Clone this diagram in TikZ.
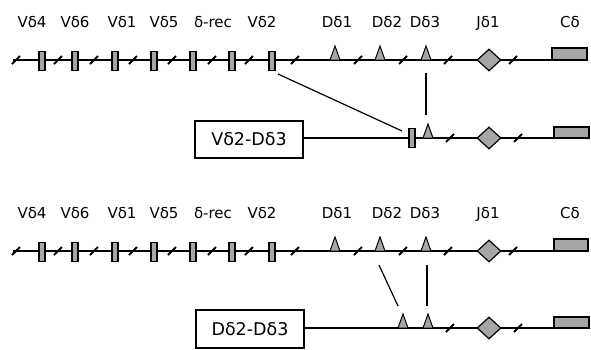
\documentclass[tikz,border=0pt]{standalone}
\usepackage{fontspec}
\setmainfont{DejaVu Sans}
\usetikzlibrary{shapes.geometric}
\definecolor{segfill}{HTML}{A6A6A6}
\begin{document}
\begin{tikzpicture}[x=1pt,y=-1pt,
  gline/.style={line width=1.5pt},
  conn/.style={line width=1.2pt},
  brkline/.style={line width=1.9pt},
  vseg/.style={draw,fill=segfill,line width=1.2pt,minimum width=6pt,minimum height=19pt,inner sep=0pt},
  dtri/.style={draw,fill=segfill,line width=1pt},
  jdia/.style={draw,fill=segfill,shape=diamond,line width=1.2pt,minimum width=24pt,minimum height=22pt,inner sep=0pt},
  cbox/.style={draw,fill=segfill,line width=1.2pt},
  lbl/.style={font=\fontsize{15}{17}\selectfont,anchor=base,inner sep=0pt},
  recbox/.style={draw,line width=1.2pt,minimum width=108pt,minimum height=37pt,font=\fontsize{17.5}{20}\selectfont}
]
\useasboundingbox (0,0) rectangle (591,349);

% ---------- Row 1: germline ----------
\draw[gline] (13,60) -- (587,60);
\foreach \x/\n in {42/a,75/b,115/c,154/d,193/e,232/f,272/g}
  \node[vseg] (r1v\n) at (\x,61) {};
\foreach \x in {16,58,94,133,172,212,249,295,358,403,448,513}
  \draw[brkline] (\x-4,64) -- (\x+4,56);
\foreach \x/\n in {335/a,380/b,426/c}{
  \draw[dtri] (\x-5,60) -- (\x,46) -- (\x+5,60) -- cycle;
  \coordinate (r1d\n) at (\x,46);
}
\node[jdia] (r1j) at (489,60) {};
\draw[cbox] (552,48) rectangle (587,60);

\foreach \x/\t/\n in {32/Vδ4/a,75/Vδ6/b,122/Vδ1/c,164/Vδ5/d,213/δ-rec/e,262/Vδ2/f,337/Dδ1/g,387/Dδ2/h,425/Dδ3/i,488/Jδ1/j,570/Cδ/k}
  \node[lbl] (r1l\n) at (\x,27) {\t};

% ---------- Row 2: V-D rearrangement ----------
\node[recbox] (box1) at (249,139.5) {Vδ2-Dδ3};
\draw[gline] (box1.east |- 0,138) -- (589,138);
\node[vseg] (r2v) at (412,138) {};
\draw[dtri] (423,138) -- (428,124) -- (433,138) -- cycle;
\coordinate (r2d) at (428,124);
\foreach \x in {450,518}
  \draw[brkline] (\x-4,142) -- (\x+4,134);
\node[jdia] (r2j) at (489,138) {};
\draw[cbox] (554,127) rectangle (589,138);

\coordinate (k1a) at (278,74);
\coordinate (k1b) at (402,131);
\coordinate (k2a) at (426,73);
\coordinate (k2b) at (426,115);
\draw[conn] (k1a) -- (k1b);
\draw[conn] (k2a) -- (k2b);

% ---------- Row 3: germline ----------
\draw[gline] (13,251) -- (588,251);
\foreach \x/\n in {42/a,75/b,115/c,154/d,193/e,232/f,272/g}
  \node[vseg] (r3v\n) at (\x,252) {};
\foreach \x in {16,58,94,133,172,212,249,295,358,403,448,513}
  \draw[brkline] (\x-4,255) -- (\x+4,247);
\foreach \x/\n in {335/a,380/b,426/c}{
  \draw[dtri] (\x-5,251) -- (\x,237) -- (\x+5,251) -- cycle;
  \coordinate (r3d\n) at (\x,237);
}
\node[jdia] (r3j) at (489,251) {};
\draw[cbox] (554,239) rectangle (588,251);

\foreach \x/\t/\n in {32/Vδ4/a,75/Vδ6/b,122/Vδ1/c,164/Vδ5/d,213/δ-rec/e,262/Vδ2/f,337/Dδ1/g,387/Dδ2/h,425/Dδ3/i,488/Jδ1/j,570/Cδ/k}
  \node[lbl] (r3l\n) at (\x,218) {\t};

% ---------- Row 4: D-D rearrangement ----------
\node[recbox,minimum height=38pt] (box2) at (250,329) {Dδ2-Dδ3};
\draw[gline] (box2.east |- 0,328) -- (589,328);
\draw[dtri] (398,328) -- (403,314) -- (408,328) -- cycle;
\draw[dtri] (423,328) -- (428,314) -- (433,328) -- cycle;
\coordinate (r4da) at (403,314);
\coordinate (r4db) at (428,314);
\foreach \x in {450,518}
  \draw[brkline] (\x-4,332) -- (\x+4,324);
\node[jdia] (r4j) at (489,328) {};
\draw[cbox] (554,317) rectangle (589,328);

\coordinate (k3a) at (379,265);
\coordinate (k3b) at (398,306);
\coordinate (k4a) at (427,265);
\coordinate (k4b) at (427,306);
\draw[conn] (k3a) -- (k3b);
\draw[conn] (k4a) -- (k4b);
\end{tikzpicture}
\end{document}
